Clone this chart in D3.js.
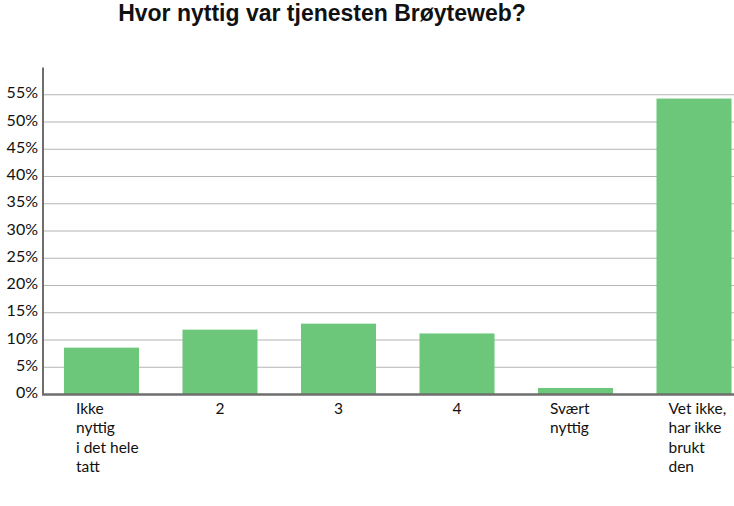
<!DOCTYPE html>
<html>
<head>
<meta charset="utf-8">
<script src="https://cdn.jsdelivr.net/npm/d3@7"></script>
<style>
  html, body { margin: 0; padding: 0; background: #fff; }
  svg { display: block; }
</style>
</head>
<body>
<svg id="chart" width="734" height="506"></svg>
<script>
const title = "Hvor nyttig var tjenesten Brøyteweb?";
const categories = [
  ["Ikke", "nyttig", "i det hele", "tatt"],
  ["2"],
  ["3"],
  ["4"],
  ["Svært", "nyttig"],
  ["Vet ikke,", "har ikke", "brukt", "den"]
];
const values = [8.6, 11.9, 13.0, 11.2, 1.2, 54.3];
const yTicks = [0, 5, 10, 15, 20, 25, 30, 35, 40, 45, 50, 55];

(function () {
const svg = d3.select("#chart");
const W = 734;
const mLeft = 43, mBottom = 394.5, mTop = 67.5;

const x = d3.scaleBand()
  .domain(d3.range(categories.length))
  .range([mLeft, 752.5])
  .paddingInner(0.367)
  .paddingOuter(0.177);

const y = d3.scaleLinear().domain([0, 60]).range([mBottom, mTop]);

// gridlines
svg.append("g")
  .selectAll("line")
  .data(yTicks.filter(d => d > 0))
  .join("line")
  .attr("x1", mLeft).attr("x2", W)
  .attr("y1", d => y(d)).attr("y2", d => y(d))
  .attr("stroke", "#b4b4b4").attr("stroke-width", 1.2);

// bars
svg.append("g")
  .selectAll("rect")
  .data(values)
  .join("rect")
  .attr("x", (d, i) => x(i))
  .attr("width", x.bandwidth())
  .attr("y", d => y(d))
  .attr("height", d => y(0) - y(d))
  .attr("fill", "#6cc77b");

// y axis
const yAxis = d3.axisLeft(y).tickValues(yTicks).tickSize(0).tickPadding(5)
  .tickFormat(d => d + "%");
const gy = svg.append("g").attr("transform", `translate(${mLeft},0)`).call(yAxis);
gy.select(".domain").remove();
gy.selectAll("text")
  .attr("font-family", "Lato, 'Open Sans', sans-serif")
  .attr("font-size", 16)
  .attr("fill", "#111")
  .attr("dy", "0.2em");

svg.append("line")
  .attr("x1", mLeft).attr("x2", mLeft)
  .attr("y1", mTop).attr("y2", mBottom)
  .attr("stroke", "#6e6e6e").attr("stroke-width", 2);
svg.append("line")
  .attr("x1", mLeft - 1).attr("x2", W)
  .attr("y1", mBottom).attr("y2", mBottom)
  .attr("stroke", "#6e6e6e").attr("stroke-width", 2.5);

// x labels
const gx = svg.append("g");
categories.forEach((lines, i) => {
  const single = lines.length === 1;
  const lx = single ? x(i) + x.bandwidth() / 2 : x(i) + 12;
  const t = gx.append("text")
    .attr("font-family", "Lato, 'Open Sans', sans-serif")
    .attr("font-size", 15.5)
    .attr("fill", "#111")
    .attr("text-anchor", single ? "middle" : "start")
    .attr("x", lx)
    .attr("y", mBottom + 19);
  lines.forEach((ln, j) => {
    t.append("tspan")
      .attr("x", lx)
      .attr("dy", j === 0 ? 0 : 19.5)
      .text(ln);
  });
});

// title
svg.append("text")
  .attr("x", 322).attr("y", 21)
  .attr("text-anchor", "middle")
  .attr("font-family", "'Liberation Sans', Arial, sans-serif")
  .attr("font-weight", "bold")
  .attr("font-size", 23)
  .attr("fill", "#111")
  .text(title);
})();
</script>
</body>
</html>
